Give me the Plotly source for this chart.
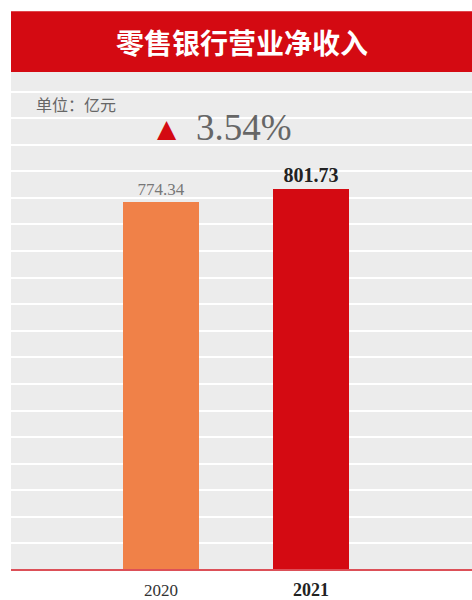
import plotly.graph_objects as go

years = ["2020", "2021"]
values = [774.34, 801.73]
bar_colors = ["#f08148", "#d40a12"]
growth_label = "3.54%"
title_text = "零售银行营业净收入"
unit_text = "单位：亿元"

x_pos = [0, 1]
fig = go.Figure()
fig.add_trace(go.Bar(
    x=x_pos, y=values, width=0.507,
    marker=dict(color=bar_colors, line=dict(width=0)),
    text=[f"{values[0]:.2f}", f"<b>{values[1]:.2f}</b>"],
    textposition="outside",
    textfont=dict(family="Liberation Serif", size=[17, 20], color=["#777777", "#222222"]),
    cliponaxis=False,
    hoverinfo="skip",
))

fig.update_layout(
    width=472, height=600,
    margin=dict(l=11, r=0, t=72, b=28),
    paper_bgcolor="white",
    plot_bgcolor="#ececec",
    showlegend=False,
    bargap=0,
    xaxis=dict(
        range=[-1, 2.073], tickmode="array", tickvals=x_pos,
        ticktext=[years[0], "<b><span style='font-size:18px;color:#222222'>" + years[1] + "</span></b>"],
        tickfont=dict(family="Liberation Serif", size=17, color="#333333"),
        showgrid=False, zeroline=False, showline=False, ticks="",
        ticklabelstandoff=8,
    ),
    yaxis=dict(
        range=[0, 1048.7], dtick=55.97, showticklabels=False,
        showgrid=True, gridcolor="white", gridwidth=2,
        zeroline=False, showline=False, ticks="",
    ),
    shapes=[
        dict(type="rect", xref="paper", yref="paper", x0=0, x1=1, y0=1, y1=1.122,
             fillcolor="#d40a12", line=dict(width=0), layer="above"),
        dict(type="line", xref="paper", yref="paper", x0=0, x1=1, y0=0, y1=0,
             line=dict(color="#dc5058", width=2), layer="above"),
    ],
    annotations=[
        dict(text=title_text, xref="paper", yref="paper", x=0.5, y=1.061,
             showarrow=False, xanchor="center", yanchor="middle",
             font=dict(family="Noto Sans CJK SC", size=28, color="white", weight="bold")),
        dict(text=unit_text, xref="paper", yref="paper", x=0.05, y=0.936,
             showarrow=False, xanchor="left", yanchor="middle",
             font=dict(family="Noto Sans CJK SC", size=16, color="#666666")),
        dict(text="▲", xref="x", yref="paper", x=0.043, y=0.886,
             showarrow=False, xanchor="center", yanchor="middle",
             font=dict(family="DejaVu Sans", size=25, color="#d40a12")),
        dict(text=growth_label, xref="x", yref="paper", x=0.55, y=0.888,
             showarrow=False, xanchor="center", yanchor="middle",
             font=dict(family="Liberation Serif", size=37, color="#666666")),
    ],
)

fig.write_html("out.html", config={"displayModeBar": False},
               post_script="document.body.style.margin='0';document.body.style.overflow='hidden';")
